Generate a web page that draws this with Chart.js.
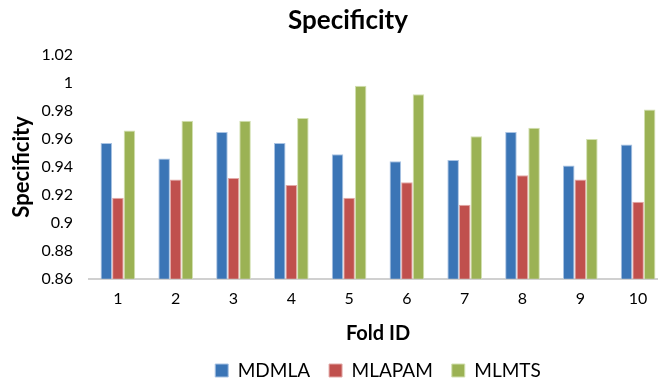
<!DOCTYPE html>
<html>
<head>
<meta charset="utf-8">
<script src="https://cdn.jsdelivr.net/npm/chart.js@4/dist/chart.umd.min.js"></script>
<style>
  html, body { margin: 0; padding: 0; background: #fff; overflow: hidden; }
  #wrap { width: 658px; height: 378px; overflow: hidden; }
</style>
</head>
<body>
<div id="wrap"><canvas id="c" width="667" height="378"></canvas></div>
<script>
const foldIds = ["1", "2", "3", "4", "5", "6", "7", "8", "9", "10"];
const mdmla  = [0.957, 0.946, 0.965, 0.957, 0.949, 0.944, 0.945, 0.965, 0.941, 0.956];
const mlapam = [0.918, 0.931, 0.932, 0.927, 0.918, 0.929, 0.913, 0.934, 0.931, 0.915];
const mlmts  = [0.966, 0.973, 0.973, 0.975, 0.998, 0.992, 0.962, 0.968, 0.960, 0.981];

const font = "Lato, 'Open Sans', sans-serif";

// the title in the original sits a bit left of the plot centre, so draw it ourselves
const titlePlugin = {
  id: "titleAt",
  afterDraw(chart) {
    const c = chart.ctx;
    c.save();
    c.fillStyle = "#000";
    c.font = "bold 26px " + font;
    c.textAlign = "center";
    c.textBaseline = "middle";
    c.fillText("Specificity", 348, 21);
    c.restore();
  }
};

const ctx = document.getElementById("c").getContext("2d");
new Chart(ctx, {
  type: "bar",
  data: {
    labels: foldIds,
    datasets: [
      { label: "MDMLA",  data: mdmla,  backgroundColor: "#3b75b6", borderColor: "#a9c3e3", borderWidth: 1 },
      { label: "MLAPAM", data: mlapam, backgroundColor: "#c0504d", borderColor: "#e3aaa8", borderWidth: 1 },
      { label: "MLMTS",  data: mlmts,  backgroundColor: "#9bb254", borderColor: "#d2e0b0", borderWidth: 1 }
    ]
  },
  plugins: [titlePlugin],
  options: {
    responsive: false,
    animation: false,
    layout: { padding: { left: 0, right: 0, top: 55, bottom: 0 } },
    datasets: { bar: { categoryPercentage: 0.6, barPercentage: 1.0 } },
    plugins: {
      title: { display: false },
      legend: {
        position: "bottom",
        fullSize: false,
        maxHeight: 36,
        labels: {
          color: "#000",
          font: { family: font, size: 19 },
          boxWidth: 13,
          boxHeight: 13,
          padding: 19
        }
      },
      tooltip: { enabled: false }
    },
    scales: {
      x: {
        grid: { display: false, drawTicks: false },
        border: { display: true, color: "#d0d0d0", width: 2 },
        ticks: { color: "#000", font: { family: font, size: 16 }, padding: 10 },
        title: {
          display: true,
          text: "Fold ID",
          color: "#000",
          font: { family: font, size: 20, weight: "bold" },
          padding: { top: 4, bottom: -4 }
        }
      },
      y: {
        min: 0.86,
        max: 1.02,
        afterFit(scale) { scale.width = 89; },
        grid: { display: false, drawTicks: false },
        border: { display: false },
        ticks: {
          stepSize: 0.02,
          color: "#000",
          font: { family: font, size: 16 },
          padding: 16,
          callback: v => String(parseFloat(v.toFixed(2)))
        },
        title: {
          display: true,
          text: "Specificity",
          color: "#000",
          font: { family: font, size: 22, weight: "bold" },
          padding: { top: 9, bottom: 0 }
        }
      }
    }
  }
});
</script>
</body>
</html>
